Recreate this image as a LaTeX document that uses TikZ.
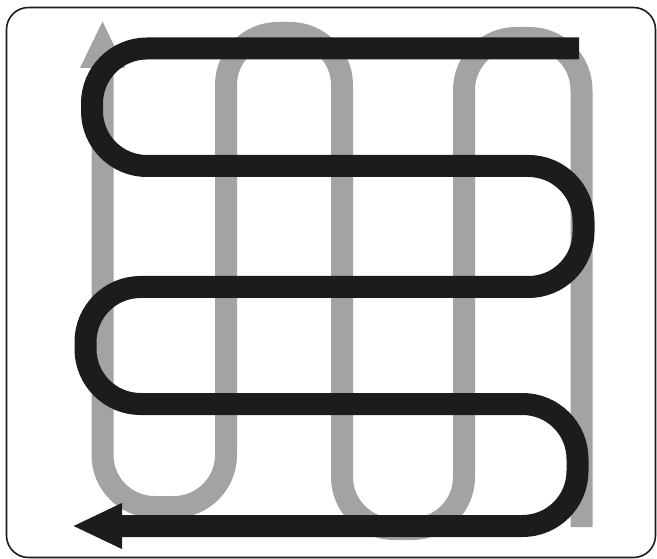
\documentclass[tikz,border=0pt]{standalone}
\usetikzlibrary{arrows.meta}
\definecolor{snakegray}{RGB}{163,163,163}
\definecolor{snakeblack}{RGB}{28,28,28}
\tikzset{
  frame/.style={draw=snakeblack, line width=1.6pt, rounded corners=22pt},
  graypath/.style={draw=snakegray, line width=22pt, line cap=butt, rounded corners=52pt,
    -{Triangle[length=48pt,width=41pt]}},
  blackpath/.style={draw=snakeblack, line width=22pt, line cap=butt, rounded corners=55pt,
    -{Triangle[length=50pt,width=42pt]}}
}
\begin{document}
\begin{tikzpicture}[x=1pt,y=-1pt]
\useasboundingbox (0,0) rectangle (657,559);
\draw[frame] (6.5,7.5) rectangle (655.5,557.5);
% gray serpentine (vertical)
\coordinate (g0) at (581.5,527);
\coordinate (g1) at (581.5,38);
\coordinate (g2) at (464,38);
\coordinate (g3) at (464,529);
\coordinate (g4) at (342,529);
\coordinate (g5) at (342,33);
\coordinate (g6) at (226,33);
\coordinate (g7) at (226,507);
\coordinate (g8) at (102.5,507);
\coordinate (g9) at (102.5,20);
\draw[graypath] (g0) -- (g1) -- (g2) -- (g3) -- (g4) -- (g5) -- (g6) -- (g7) -- (g8) -- (g9);
% black serpentine (horizontal)
\coordinate (b0) at (579,48.5);
\coordinate (b1) at (92,48.5);
\coordinate (b2) at (92,166);
\coordinate (b3) at (583.5,166);
\coordinate (b4) at (583.5,287);
\coordinate (b5) at (85.5,287);
\coordinate (b6) at (85.5,404);
\coordinate (b7) at (577.5,404);
\coordinate (b8) at (577.5,526);
\coordinate (b9) at (72,526);
\draw[blackpath] (b0) -- (b1) -- (b2) -- (b3) -- (b4) -- (b5) -- (b6) -- (b7) -- (b8) -- (b9);
\end{tikzpicture}
\end{document}
